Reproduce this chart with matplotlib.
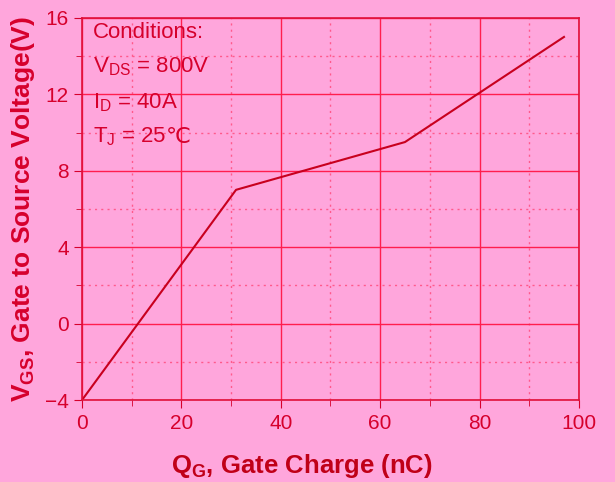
import numpy as np
import matplotlib.pyplot as plt
from matplotlib.ticker import MultipleLocator

plt.rcParams['font.family'] = ['Liberation Sans', 'DejaVu Sans']
plt.rcParams['mathtext.default'] = 'regular'

# gate charge curve
qg = [0, 31, 65, 97]
vgs = [-4, 7.0, 9.5, 15.0]

conditions = ["Conditions:", "V$_{DS}$ = 800V", "I$_D$ = 40A", "T$_J$ = 25"]

bg = '#ffa6dc'
red = '#d6002c'

fig = plt.figure(figsize=(6.15, 4.82), dpi=100, facecolor=bg)
ax = fig.add_axes([0.1333, 0.170, 0.808, 0.793])
ax.set_facecolor(bg)

ax.plot(qg, vgs, color='#c8001e', lw=1.5)

ax.set_xlim(0, 100)
ax.set_ylim(-4, 16)
ax.xaxis.set_major_locator(MultipleLocator(20))
ax.xaxis.set_minor_locator(MultipleLocator(10))
ax.yaxis.set_major_locator(MultipleLocator(4))
ax.yaxis.set_minor_locator(MultipleLocator(2))

ax.grid(which='major', color='#ff1e4e', lw=1.0)
ax.grid(which='minor', color='#ff5a8c', lw=1.0, ls=(0, (1.5, 3)))

for s in ax.spines.values():
    s.set_color('#e0103a')
    s.set_linewidth(1.2)

ax.tick_params(which='both', direction='out', color=red, labelcolor=red, labelsize=15)
ax.tick_params(which='major', length=6)
ax.tick_params(which='minor', length=4)
ax.tick_params(axis='x', pad=4)

ax.set_xlabel("Q$_G$, Gate Charge (nC)", fontsize=18.5, fontweight='bold', color='#c00018', labelpad=12)
ax.xaxis.set_label_coords(0.443, -0.135)
ax.set_ylabel("V$_{GS}$, Gate to Source Voltage(V)", fontsize=19, fontweight='bold', color=red, labelpad=6)

ys = [0.962, 0.872, 0.778, 0.688]
last = None
for t, y in zip(conditions, ys):
    last = ax.text(0.022, y, t, transform=ax.transAxes, fontsize=16, color=red, va='center', ha='left')
ax.annotate("\u2103", xy=(1, 0.5), xycoords=last, va='center', ha='left',
            fontsize=16, color=red, family=['DejaVu Sans'])

fig.savefig("out.png", dpi=100, facecolor=bg)
